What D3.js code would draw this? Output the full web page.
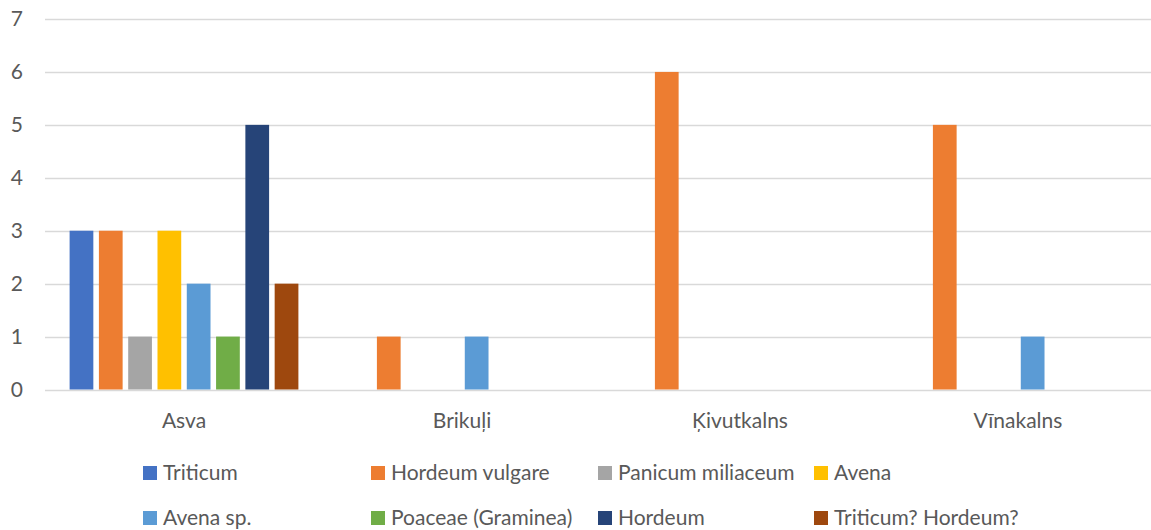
<!DOCTYPE html>
<html>
<head>
<meta charset="utf-8">
<script src="https://cdn.jsdelivr.net/npm/d3@7"></script>
<style>
  body { margin: 0; background: #fff; }
  text { font-family: Lato, "Open Sans", sans-serif; fill: #595959; }
</style>
</head>
<body>
<div id="chart"></div>
<script>
// data
const sites = ["Asva", "Brikuļi", "Ķivutkalns", "Vīnakalns"];
const taxa = ["Triticum", "Hordeum vulgare", "Panicum miliaceum", "Avena",
              "Avena sp.", "Poaceae (Graminea)", "Hordeum", "Triticum? Hordeum?"];
const triticum      = [3, 0, 0, 0];
const hordeumVulg   = [3, 1, 6, 5];
const panicum       = [1, 0, 0, 0];
const avena         = [3, 0, 0, 0];
const avenaSp       = [2, 1, 0, 1];
const poaceae       = [1, 0, 0, 0];
const hordeum       = [5, 0, 0, 0];
const tritHord      = [2, 0, 0, 0];
const yTicks = [0, 1, 2, 3, 4, 5, 6, 7];

const seriesValues = [triticum, hordeumVulg, panicum, avena, avenaSp, poaceae, hordeum, tritHord];
const colors = ["#4472C4", "#ED7D31", "#A5A5A5", "#FFC000", "#5B9BD5", "#70AD47", "#264478", "#9E480E"];

const width = 1151, height = 530;
// plot area runs a little past the right edge (chart is cropped there)
const margin = {top: 19, bottom: 140.5, left: 45};
const innerW = 1112;
const innerH = height - margin.top - margin.bottom;

const svg = d3.select("#chart").append("svg")
    .attr("width", width)
    .attr("height", height)
    .style("display", "block");

const g = svg.append("g")
    .attr("transform", `translate(${margin.left},${margin.top})`);

const x0 = d3.scaleBand()
    .domain(sites)
    .range([0, innerW])
    .padding(0);

const x1 = d3.scaleBand()
    .domain(taxa)
    .range([0, x0.bandwidth()])
    .paddingInner(0.19)
    .paddingOuter(0.84);

const y = d3.scaleLinear()
    .domain([0, 7])
    .range([innerH, 0]);

// gridlines
g.selectAll(".grid")
    .data(yTicks)
    .enter().append("line")
    .attr("class", "grid")
    .attr("x1", 0)
    .attr("x2", innerW)
    .attr("y1", d => Math.round(y(d)) + 0.5)
    .attr("y2", d => Math.round(y(d)) + 0.5)
    .attr("stroke", "#d9d9d9")
    .attr("stroke-width", 1.3);

// y tick labels
g.selectAll(".ytick")
    .data(yTicks)
    .enter().append("text")
    .attr("class", "ytick")
    .attr("x", -22)
    .attr("y", d => y(d))
    .attr("dy", "0.35em")
    .attr("text-anchor", "end")
    .style("font-size", "21px")
    .text(d => d);

// bars
const rows = sites.map((s, i) => ({site: s, vals: taxa.map((t, j) => ({taxon: t, idx: j, v: seriesValues[j][i]}))}));

const groups = g.selectAll(".site")
    .data(rows)
    .enter().append("g")
    .attr("class", "site")
    .attr("transform", d => `translate(${x0(d.site)},0)`);

groups.selectAll("rect")
    .data(d => d.vals.filter(v => v.v > 0))
    .enter().append("rect")
    .attr("x", d => x1(d.taxon))
    .attr("y", d => y(d.v))
    .attr("width", x1.bandwidth())
    .attr("height", d => innerH - y(d.v))
    .attr("fill", d => colors[d.idx]);

// category labels
g.selectAll(".xlab")
    .data(sites)
    .enter().append("text")
    .attr("class", "xlab")
    .attr("x", d => x0(d) + x0.bandwidth() / 2)
    .attr("y", innerH + 31)
    .attr("dy", "0.35em")
    .attr("text-anchor", "middle")
    .style("font-size", "21px")
    .text(d => d);

// legend
const legendCols = [143, 371, 598, 814];
const legendRows = [473, 518];
const legend = svg.selectAll(".legend")
    .data(taxa)
    .enter().append("g")
    .attr("class", "legend")
    .attr("transform", (d, i) => `translate(${legendCols[i % 4]},${legendRows[Math.floor(i / 4)]})`);

legend.append("rect")
    .attr("x", 0)
    .attr("y", -7)
    .attr("width", 14)
    .attr("height", 14)
    .attr("fill", (d, i) => colors[i]);

legend.append("text")
    .attr("x", 20)
    .attr("y", 0)
    .attr("dy", "0.35em")
    .style("font-size", "21px")
    .text(d => d);
</script>
</body>
</html>
